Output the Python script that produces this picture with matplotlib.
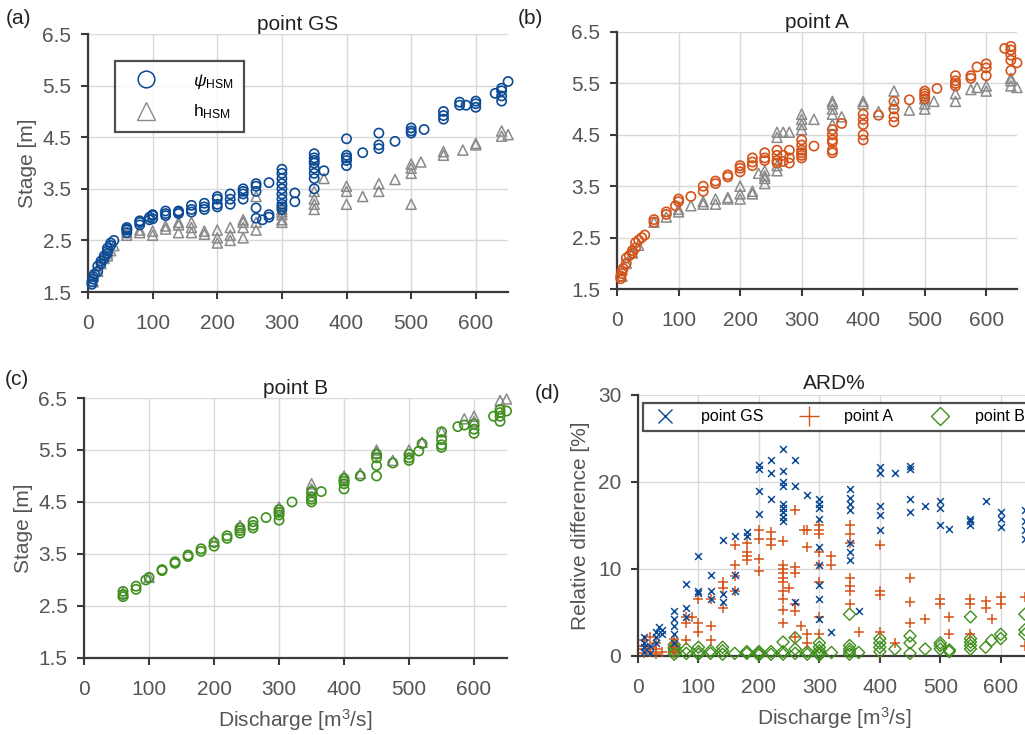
import numpy as np
import matplotlib.pyplot as plt
from matplotlib.lines import Line2D

plt.rcParams['font.family'] = ['Liberation Sans', 'DejaVu Sans']
plt.rcParams['mathtext.fontset'] = 'custom'
plt.rcParams['mathtext.rm'] = 'Liberation Sans'
plt.rcParams['mathtext.it'] = 'Liberation Sans:italic'

BLUE = '#0b4a94'
ORANGE = '#d4531a'
GREEN = '#3f8f1c'
GRAY = '#8a8a8a'

# ---- point GS: discharge levels and stages at each level ----
gs_psi_q = [6, 8, 10, 15, 20, 25, 30, 35, 40, 60, 80, 95, 100, 120, 140, 160, 180, 200, 220, 240,
            260, 270, 280, 300, 320, 350, 365, 400, 425, 450, 475, 500, 520, 550, 575, 585, 600,
            630, 640, 650]
gs_psi = [[1.65, 1.7], [1.75, 1.8], [1.85], [1.9, 2.0], [2.05, 2.1], [2.15, 2.2], [2.25, 2.3, 2.35],
          [2.4, 2.45], [2.5], [2.65, 2.7, 2.72, 2.75], [2.8, 2.85, 2.88], [2.9, 2.95],
          [2.92, 2.98, 3.0], [2.98, 3.02, 3.07], [3.02, 3.05, 3.07], [3.05, 3.1, 3.18],
          [3.1, 3.15, 3.22], [3.15, 3.2, 3.3, 3.35], [3.2, 3.3, 3.4], [3.3, 3.4, 3.45, 3.5],
          [2.93, 3.13, 3.45, 3.55, 3.6], [2.9], [2.95, 3.0, 3.62],
          [3.1, 3.15, 3.2, 3.3, 3.4, 3.5, 3.6, 3.7, 3.8, 3.88], [3.25, 3.42],
          [3.5, 3.7, 3.8, 3.9, 4.0, 4.05, 4.1, 4.18], [3.85], [3.95, 4.05, 4.1, 4.15, 4.47],
          [4.2], [4.28, 4.35, 4.58], [4.42], [4.58, 4.62, 4.68], [4.65], [4.85, 4.92, 5.0],
          [5.12, 5.18], [5.12], [5.08, 5.15, 5.2], [5.35], [5.2, 5.3, 5.4, 5.45], [5.58]]
gs_h_q = [8, 15, 20, 25, 30, 35, 40, 60, 80, 100, 120, 140, 160, 180, 200, 220, 240, 260, 300, 350,
          365, 400, 425, 450, 475, 500, 515, 550, 580, 600, 640, 650]
gs_h = [[1.7, 1.8], [1.9], [2.05], [2.15], [2.2, 2.25], [2.3], [2.4], [2.6, 2.65], [2.65, 2.7],
        [2.6, 2.68], [2.72, 2.78], [2.65, 2.8, 2.85], [2.65, 2.75, 2.85], [2.62, 2.68],
        [2.45, 2.55, 2.7], [2.5, 2.6, 2.75], [2.55, 2.75, 2.85, 2.9], [2.7, 2.85, 3.35],
        [2.85, 2.9, 3.0, 3.05, 3.1], [3.1, 3.2, 3.3, 3.45], [3.7], [3.2, 3.45, 3.55], [3.35],
        [3.45, 3.6], [3.68], [3.2, 3.8, 3.9, 3.98], [4.02], [4.15, 4.22], [4.25], [4.35, 4.38],
        [4.52, 4.62], [4.55]]

# ---- point A ----
a_psi_q = [6, 8, 10, 15, 20, 25, 30, 35, 40, 45, 60, 80, 95, 100, 120, 140, 160, 180, 200, 220,
           240, 260, 270, 280, 300, 320, 350, 365, 400, 425, 450, 475, 500, 520, 550, 575, 585,
           600, 630, 640, 650]
a_psi = [[1.7, 1.75], [1.8, 1.85], [1.9], [2.0, 2.1], [2.15], [2.2, 2.25], [2.3, 2.4], [2.45],
         [2.5], [2.55], [2.8, 2.85], [2.95, 3.0], [3.12], [3.2, 3.25], [3.3], [3.4, 3.5],
         [3.55, 3.6], [3.68, 3.72], [3.78, 3.85, 3.9], [3.9, 3.97, 4.05], [4.0, 4.05, 4.15],
         [3.95, 4.0, 4.1, 4.2], [3.98, 4.1], [3.95, 4.05, 4.2], [4.05, 4.1, 4.15, 4.2, 4.3, 4.4],
         [4.28], [4.15, 4.2, 4.35, 4.4, 4.5, 4.6], [4.72], [4.4, 4.5, 4.7, 4.8, 4.9], [4.88],
         [4.75, 4.85, 5.0, 5.15], [5.18], [5.2, 5.25, 5.3, 5.35], [5.4], [5.45, 5.5, 5.55, 5.65],
         [5.6, 5.65], [5.82], [5.65, 5.8, 5.88], [6.18], [5.75, 5.95, 6.05, 6.15, 6.22], [5.9]]
a_h_q = [8, 15, 25, 35, 60, 80, 100, 120, 140, 160, 180, 200, 220, 230, 240, 260, 270, 280, 300,
         320, 350, 365, 400, 425, 450, 475, 500, 515, 550, 575, 585, 600, 640, 650]
a_h = [[1.75], [2.0], [2.2], [2.35], [2.8], [2.9], [3.0, 3.05], [3.12], [3.15, 3.2], [3.15, 3.25],
       [3.25, 3.28], [3.25, 3.35, 3.5], [3.35, 3.4], [3.75], [3.55, 3.65, 3.7, 3.8],
       [3.8, 3.9, 4.45, 4.55], [4.55], [4.55], [4.6, 4.7, 4.8, 4.9], [4.8],
       [4.7, 4.9, 5.0, 5.1, 5.15], [4.85], [5.1, 5.15], [4.95], [5.1, 5.35], [4.98],
       [5.0, 5.1, 5.2], [5.15], [5.15, 5.3], [5.38], [5.42], [5.35, 5.45], [5.45, 5.55, 5.6], [5.42]]

# ---- point B ----
b_psi_q = [60, 80, 95, 100, 120, 140, 160, 180, 200, 220, 240, 260, 280, 300, 320, 350, 365, 400,
           425, 450, 475, 500, 515, 520, 550, 575, 585, 600, 630, 640, 650]
b_psi = [[2.68, 2.72, 2.78], [2.82, 2.88], [3.0], [3.05], [3.18, 3.2], [3.32, 3.35], [3.45, 3.48],
         [3.55, 3.6], [3.65, 3.72], [3.8, 3.85], [3.9, 3.95, 4.0], [4.0, 4.05, 4.12], [4.2],
         [4.15, 4.25, 4.3, 4.35], [4.5], [4.5, 4.55, 4.6, 4.7], [4.7], [4.75, 4.85, 4.9, 4.95],
         [5.0], [5.0, 5.2, 5.35, 5.42], [5.25], [5.3, 5.35, 5.42], [5.48], [5.62],
         [5.55, 5.6, 5.7, 5.85], [5.95], [5.98], [5.82, 5.9, 6.0], [6.15],
         [6.05, 6.15, 6.22, 6.28], [6.25]]
b_h_q = [60, 100, 200, 240, 300, 350, 400, 425, 450, 475, 500, 520, 550, 585, 600, 640, 650]
b_h = [[2.75], [3.05], [3.75], [4.05], [4.4], [4.75, 4.85], [5.0], [5.05], [5.45, 5.5], [5.3],
       [5.5], [5.65], [5.85], [6.1], [6.05, 6.15], [6.45], [6.48]]

# ---- ARD% ----
ard_gs_q = [10, 20, 30, 35, 40, 60, 80, 100, 120, 140, 160, 180, 200, 220, 240, 260, 280, 300,
            320, 350, 365, 400, 425, 450, 475, 500, 515, 550, 575, 600, 640]
ard_gs = [[0.5, 1.0, 1.5, 2.2], [0.3, 1.2], [1.5, 2.2, 2.7], [3.3], [2.5, 3.0],
          [1.5, 2.5, 3.5, 4.2, 5.2], [4.5, 5.5, 8.3], [7.2, 7.5, 11.5], [6.5, 7.5, 9.3],
          [6.2, 7.1, 13.3], [7.5, 9.3, 13.8], [13.8, 14.3], [16.3, 19.0, 21.5, 22.0],
          [18.0, 21.0, 22.5], [15.5, 16.0, 16.5, 17.0, 17.5, 19.5, 20.0, 21.3, 23.8],
          [6.2, 19.5, 22.5], [18.5], [4.2, 6.5, 8.2, 10.5, 12.5, 15.8, 17.0, 17.5, 18.0], [2.8],
          [11.0, 12.0, 13.0, 16.8, 17.5, 18.2, 19.2], [5.2], [14.5, 16.2, 17.2, 21.0, 21.7], [21.0],
          [16.5, 18.0, 21.5, 21.8], [17.2], [15.0, 17.0, 17.8], [14.6], [15.0, 15.5, 15.8], [17.8],
          [14.8, 15.8, 16.5], [13.5, 14.5, 15.5, 16.8]]
ard_a_q = [10, 20, 30, 40, 60, 80, 90, 100, 120, 140, 160, 180, 200, 220, 240, 250, 260, 270, 275,
           280, 300, 320, 350, 365, 400, 425, 450, 475, 500, 515, 550, 575, 585, 600, 640]
ard_a = [[0.3, 0.8, 1.2, 1.8], [0.5, 1.0, 2.2], [0.2, 0.8, 1.5], [0.5], [0.5, 1.0, 1.5, 2.0],
         [1.8, 3.8, 4.5], [4.5], [2.8, 3.8, 6.5], [1.8, 3.5, 6.5], [5.5, 7.8, 8.5],
         [7.5, 9.2, 10.5, 12.8], [11.0, 11.5, 12.0, 13.0], [9.8, 11.2, 13.5, 14.5],
         [12.8, 13.5, 14.2], [3.8, 5.3, 6.5, 7.5, 8.5, 9.0, 9.5, 10.0, 10.5, 13.2], [7.8],
         [2.2, 5.2, 6.0, 9.5, 10.2, 16.8], [3.5], [14.5], [1.5, 2.5, 12.5, 14.5],
         [2.5, 4.5, 8.5, 10.5, 12.0, 14.0, 14.5, 15.0], [10.5, 11.5],
         [6.0, 7.5, 8.0, 9.0, 13.0, 14.0, 15.0], [2.8], [2.8, 7.0, 7.5, 12.8], [1.5],
         [3.8, 6.2, 9.0], [4.2], [6.0, 6.5], [2.5, 4.5], [2.5, 6.0, 6.5], [5.5, 6.3], [4.2],
         [6.0, 6.8], [1.2, 6.8]]
ard_b_q = [60, 80, 100, 120, 140, 160, 180, 200, 220, 240, 260, 280, 300, 320, 350, 365, 400, 425,
           450, 475, 500, 515, 550, 575, 585, 600, 640]
ard_b = [[0.2, 0.5, 0.8, 1.0, 1.3], [0.3, 0.8], [0.2, 0.5, 1.0], [0.3, 0.6], [0.2, 0.6, 1.0],
         [0.3], [0.3, 0.5], [0.1, 0.3, 0.5], [0.2, 0.5], [0.2, 0.5, 1.6], [0.3, 0.8, 2.1],
         [0.2, 0.5], [0.1, 0.3, 0.6, 1.0, 1.5], [0.4], [0.2, 0.5, 0.8, 1.2, 4.8], [0.4],
         [0.5, 1.0, 1.5, 2.0], [0.8], [0.3, 1.5, 2.3], [0.8], [0.8, 1.2, 1.5], [0.5, 0.7],
         [0.8, 1.2, 1.6, 2.0, 4.5], [1.0], [1.8], [2.0, 2.5], [2.5, 3.0, 4.8]]


def flat(qs, vals):
    x = np.concatenate([[q] * len(v) for q, v in zip(qs, vals)])
    y = np.concatenate(vals)
    return x, y


TICK_C = '#555555'
SPINE_C = '#3a3a3a'
FS = 15


def style(ax, ylim, yticks):
    ax.set_xlim(0, 650)
    ax.set_ylim(*ylim)
    ax.set_xticks(range(0, 700, 100))
    ax.set_yticks(yticks)
    for s in ['top', 'right']:
        ax.spines[s].set_visible(False)
    for s in ['left', 'bottom']:
        ax.spines[s].set_color(SPINE_C)
        ax.spines[s].set_linewidth(1.6)
    ax.grid(True, color='#d9d9d9', linewidth=1.0)
    ax.set_axisbelow(True)
    ax.tick_params(direction='out', length=5, width=1.5, colors=SPINE_C, labelcolor=TICK_C,
                   labelsize=FS)
    ax.tick_params(axis='x', pad=11)
    ax.tick_params(axis='y', pad=7)


fig = plt.figure(figsize=(10.25, 7.35), dpi=100)
ax_a = fig.add_axes([0.0859, 0.6027, 0.4098, 0.3510])
ax_b = fig.add_axes([0.6020, 0.6068, 0.3902, 0.3497])
ax_c = fig.add_axes([0.0820, 0.1048, 0.4122, 0.3537])
ax_d = fig.add_axes([0.6224, 0.1075, 0.3834, 0.3551])

stage_ticks = [1.5, 2.5, 3.5, 4.5, 5.5, 6.5]
panels = [(ax_a, 'point GS', BLUE, gs_psi_q, gs_psi, gs_h_q, gs_h),
          (ax_b, 'point A', ORANGE, a_psi_q, a_psi, a_h_q, a_h),
          (ax_c, 'point B', GREEN, b_psi_q, b_psi, b_h_q, b_h)]
for ax, title, col, pq, pv, hq, hv in panels:
    style(ax, (1.5, 6.5), stage_ticks)
    hx, hy = flat(hq, hv)
    px, py = flat(pq, pv)
    ax.scatter(hx, hy, s=52, marker='^', facecolors='none', edgecolors=GRAY, linewidths=1.1,
               clip_on=False, zorder=3)
    ax.scatter(px, py, s=44, marker='o', facecolors='none', edgecolors=col, linewidths=1.2,
               clip_on=False, zorder=4)
    ax.set_title(title, fontsize=FS, color='#222222', pad=1)

for ax in (ax_a, ax_b, ax_c):
    ax.set_yticklabels(['1.5', '2.5', '3.5', '4.5', '5.5', '6.5'])
ax_a.set_ylabel('Stage [m]', fontsize=FS, color=TICK_C, labelpad=4)
ax_c.set_ylabel('Stage [m]', fontsize=FS, color=TICK_C, labelpad=4)
ax_c.set_xlabel('Discharge [m$^3$/s]', fontsize=FS, color=TICK_C, labelpad=6)

leg_a = ax_a.legend(handles=[
    Line2D([], [], marker='o', ls='none', markersize=12, markerfacecolor='none',
           markeredgecolor=BLUE, markeredgewidth=1.1, label=r'$\psi_{\mathrm{HSM}}$'),
    Line2D([], [], marker='^', ls='none', markersize=13, markerfacecolor='none',
           markeredgecolor=GRAY, markeredgewidth=1.0, label=r'h$_{\mathrm{HSM}}$')],
    loc='upper left', bbox_to_anchor=(0.064, 0.895), fontsize=12.5, frameon=True,
    fancybox=False, edgecolor='#222222', handletextpad=1.5, labelspacing=0.7,
    borderpad=0.6, borderaxespad=0, handlelength=2.4)
leg_a.get_frame().set_linewidth(1.6)

# ARD panel
style(ax_d, (0, 30), [0, 10, 20, 30])
gx, gy = flat(ard_gs_q, ard_gs)
ox, oy = flat(ard_a_q, ard_a)
bx, by = flat(ard_b_q, ard_b)
ax_d.scatter(bx, by, s=38, marker='D', facecolors='none', edgecolors=GREEN, linewidths=1.0,
             clip_on=False, zorder=3)
ax_d.scatter(ox, oy, s=48, marker='+', color=ORANGE, linewidths=1.1, clip_on=False, zorder=4)
ax_d.scatter(gx, gy, s=24, marker='x', color=BLUE, linewidths=1.1, clip_on=False, zorder=5)
ax_d.set_title('ARD%', fontsize=FS, color='#222222', pad=4)
ax_d.set_ylabel('Relative difference [%]', fontsize=FS, color=TICK_C, labelpad=6)
ax_d.set_xlabel('Discharge [m$^3$/s]', fontsize=FS, color=TICK_C, labelpad=6)
leg_d = ax_d.legend(handles=[
    Line2D([], [], marker='x', ls='none', markersize=10, color=BLUE, label='point GS'),
    Line2D([], [], marker='+', ls='none', markersize=14, color=ORANGE, label='point A'),
    Line2D([], [], marker='D', ls='none', markersize=9, markerfacecolor='none',
           markeredgecolor=GREEN, label='point B')],
    loc='upper left', bbox_to_anchor=(0.013, 0.862, 0.987, 0.107), mode='expand', ncol=3,
    fontsize=11.5, frameon=True, fancybox=False, edgecolor='#222222', borderaxespad=0,
    handletextpad=1.2, columnspacing=1.0, borderpad=0.4)
leg_d.get_frame().set_linewidth(1.6)

# panel letters
for lbl, x, y in [('(a)', 0.006, 0.975), ('(b)', 0.505, 0.975), ('(c)', 0.005, 0.483),
                  ('(d)', 0.522, 0.465)]:
    fig.text(x, y, lbl, fontsize=FS, color='#222222', va='center')

fig.savefig('out.png', dpi=100)
